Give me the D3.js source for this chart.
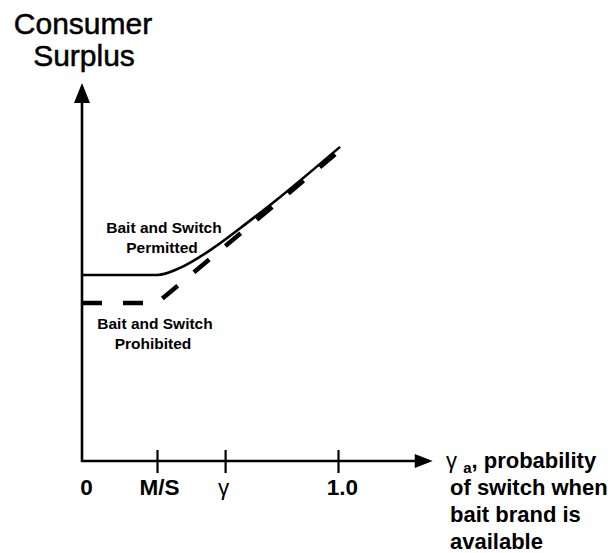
<!DOCTYPE html>
<html>
<head>
<meta charset="utf-8">
<script src="https://cdn.jsdelivr.net/npm/d3@7"></script>
<style>
  html, body { margin: 0; padding: 0; background: #fff; }
  svg { display: block; font-family: "Liberation Sans", Arial, sans-serif; }
</style>
</head>
<body>
<svg id="chart" width="613" height="553"></svg>
<script>
// ---- data ----
const tickValues = [0, 0.293, 0.559, 1.0];
const tickLabels = ["0", "M/S", "γ", "1.0"];
const tickShown = [false, true, true, true];

// Bait and switch permitted (solid)
const permittedX = [0, 0.293, 0.383, 0.512, 0.645, 0.773, 1.008];
const permittedY = [4.92, 4.92, 5.11, 5.63, 6.30, 6.98, 8.31];

// Bait and switch prohibited (dashed)
const prohibitedX = [0, 0.293, 1.008];
const prohibitedY = [4.18, 4.18, 8.22];

const xAxisMax = 1.37;
const yAxisMax = 10;

// ---- layout ----
const svg = d3.select("#chart");
const x = d3.scaleLinear().domain([0, 1]).range([82, 338]);
const y = d3.scaleLinear().domain([0, yAxisMax]).range([461, 83]);

// axes lines
const g = svg.append("g");
g.append("line")
  .attr("x1", x(0)).attr("x2", x(0))
  .attr("y1", y(0) + 1).attr("y2", y(yAxisMax) + 15)
  .attr("stroke", "#000").attr("stroke-width", 2.6);
g.append("path")
  .attr("d", `M${x(0)},${y(yAxisMax)} L${x(0) - 8},${y(yAxisMax) + 20} L${x(0) + 8},${y(yAxisMax) + 20} Z`)
  .attr("fill", "#000");

g.append("line")
  .attr("x1", x(0) - 1).attr("x2", x(xAxisMax) - 14)
  .attr("y1", y(0)).attr("y2", y(0))
  .attr("stroke", "#000").attr("stroke-width", 2.6);
g.append("path")
  .attr("d", `M${x(xAxisMax)},${y(0)} L${x(xAxisMax) - 18},${y(0) - 7} L${x(xAxisMax) - 18},${y(0) + 7} Z`)
  .attr("fill", "#000");

// x axis ticks via d3 axis
const xAxis = d3.axisBottom(x)
  .tickValues(tickValues)
  .tickFormat((d, i) => tickLabels[i])
  .tickSizeOuter(0);
const ax = svg.append("g").attr("transform", `translate(0,${y(0)})`).call(xAxis);
ax.select(".domain").remove();
ax.selectAll(".tick line")
  .attr("y1", -11).attr("y2", 12)
  .attr("stroke", "#000").attr("stroke-width", 2.2)
  .attr("display", (d, i) => tickShown[i] ? null : "none");
ax.selectAll(".tick text")
  .attr("y", 34).attr("dy", null)
  .attr("dx", (d, i) => i === 0 ? 4 : (i === 3 ? 4 : (i === 1 ? 2 : -2)))
  .attr("fill", "#000")
  .style("font-family", "'Liberation Sans', Arial, sans-serif")
  .style("font-size", "22.5px")
  .style("font-weight", (d, i) => tickLabels[i] === "γ" ? "normal" : "bold");

// lines
const line = d3.line().x(d => x(d[0])).y(d => y(d[1]));
const permitted = permittedX.map((v, i) => [v, permittedY[i]]);
const prohibited = prohibitedX.map((v, i) => [v, prohibitedY[i]]);

svg.append("path")
  .attr("d", line.curve(d3.curveMonotoneX)(permitted))
  .attr("fill", "none").attr("stroke", "#000").attr("stroke-width", 2.6);

svg.append("path")
  .attr("d", line.curve(d3.curveLinear)(prohibited))
  .attr("fill", "none").attr("stroke", "#000").attr("stroke-width", 4.5)
  .attr("stroke-dasharray", "20,21");

// y-axis title
const title = svg.append("text")
  .attr("text-anchor", "middle")
  .style("font-size", "30px").attr("fill", "#000")
  .attr("stroke", "#000").attr("stroke-width", 0.5);
title.append("tspan").attr("x", 83).attr("y", 34).text("Consumer");
title.append("tspan").attr("x", 84).attr("y", 66).text("Surplus");

// curve labels
const lab1 = svg.append("text").attr("text-anchor", "middle")
  .style("font-size", "15.5px").style("font-weight", "bold").attr("fill", "#000");
lab1.append("tspan").attr("x", 164).attr("y", 233).text("Bait and Switch");
lab1.append("tspan").attr("x", 162).attr("y", 253).text("Permitted");

const lab2 = svg.append("text").attr("text-anchor", "middle")
  .style("font-size", "15.5px").style("font-weight", "bold").attr("fill", "#000");
lab2.append("tspan").attr("x", 155).attr("y", 329).text("Bait and Switch");
lab2.append("tspan").attr("x", 153).attr("y", 349).text("Prohibited");

// x-axis title
const xt = svg.append("text").attr("fill", "#000")
  .style("font-size", "22px").style("font-weight", "bold");
const l1 = xt.append("tspan").attr("x", 446).attr("y", 468);
l1.append("tspan").style("font-weight", "normal").text("γ ");
l1.append("tspan").style("font-size", "15px").attr("dy", 5).text("a");
l1.append("tspan").attr("dy", -5).text(", probability");
xt.append("tspan").attr("x", 450).attr("y", 495).text("of switch when");
xt.append("tspan").attr("x", 450).attr("y", 522).text("bait brand is");
xt.append("tspan").attr("x", 450).attr("y", 549).text("available");
</script>
</body>
</html>
